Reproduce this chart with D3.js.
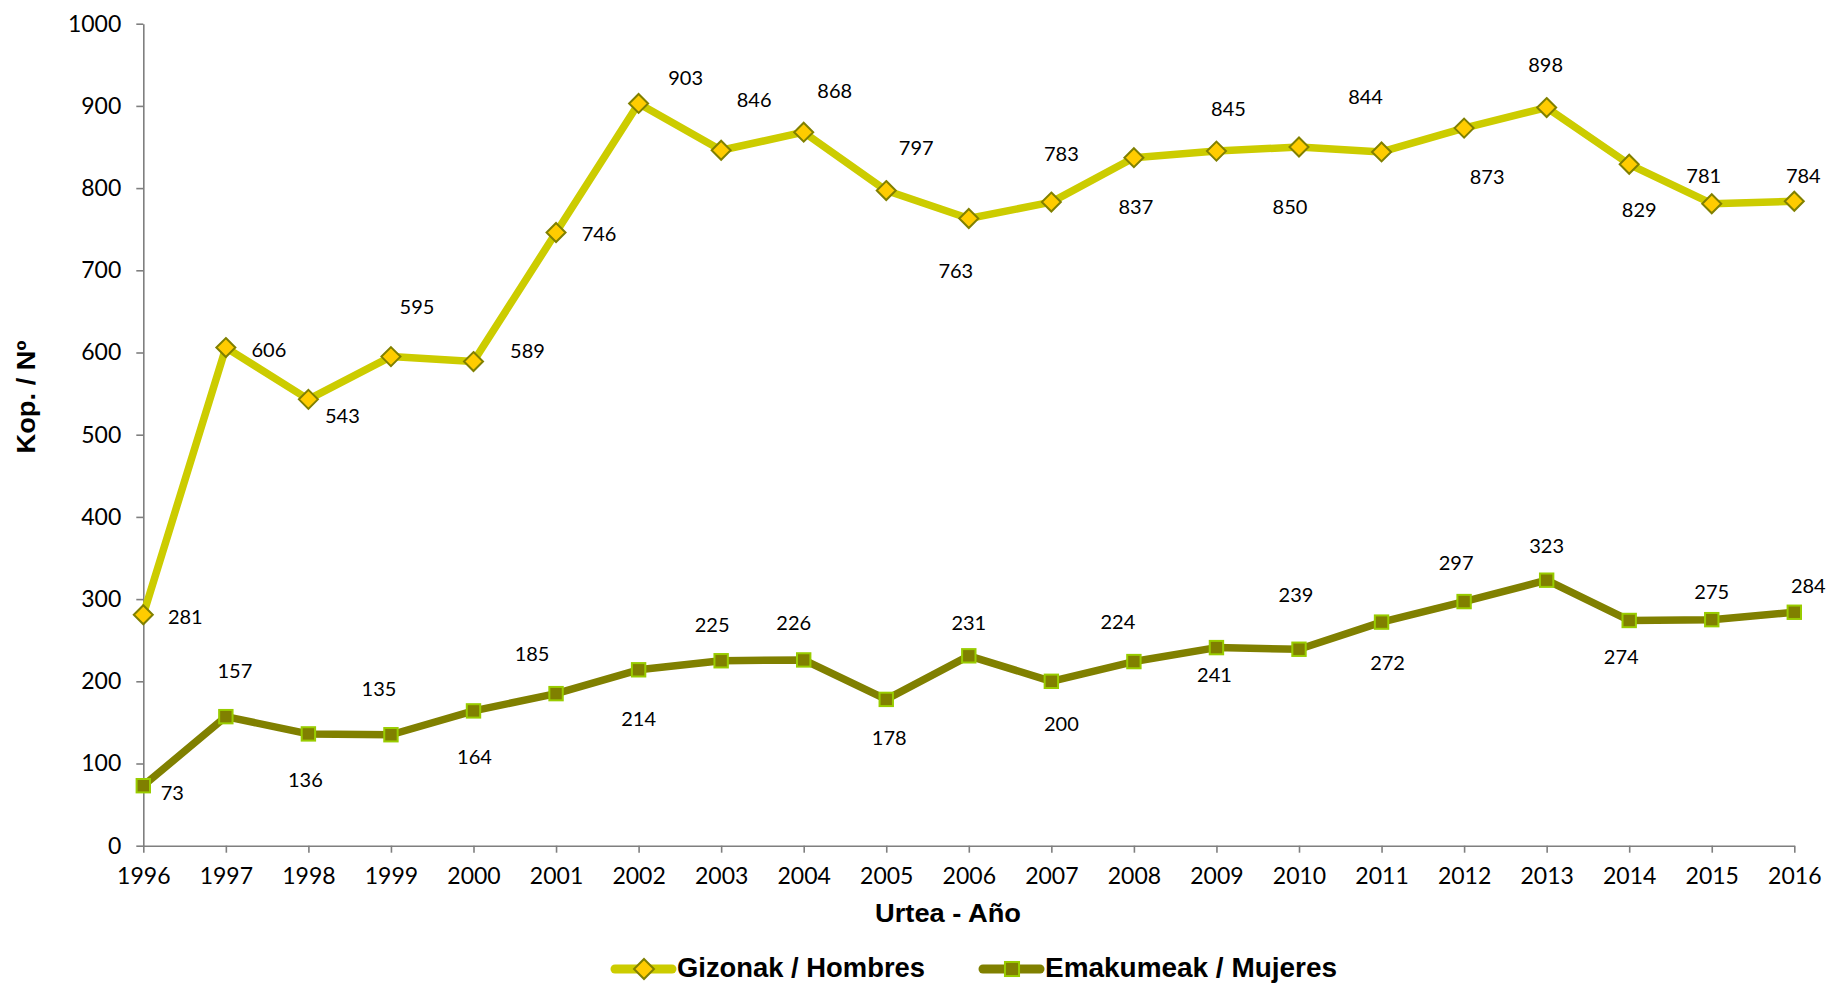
<!DOCTYPE html>
<html>
<head>
<meta charset="utf-8">
<script src="https://cdn.jsdelivr.net/npm/d3@7"></script>
<style>
  html, body { margin: 0; padding: 0; background: #ffffff; }
  svg { display: block; }
</style>
</head>
<body>
<svg id="chart" width="1827" height="984"></svg>
<script>
// ---- Data ----
const years = [1996,1997,1998,1999,2000,2001,2002,2003,2004,2005,2006,2007,2008,2009,2010,2011,2012,2013,2014,2015,2016];
const hombres = [281,606,543,595,589,746,903,846,868,797,763,783,837,845,850,844,873,898,829,781,784];
const mujeres = [73,157,136,135,164,185,214,225,226,178,231,200,224,241,239,272,297,323,274,275,284];
const yTicks = [0,100,200,300,400,500,600,700,800,900,1000];
const seriesNames = ["Gizonak / Hombres", "Emakumeak / Mujeres"];
const xTitle = "Urtea - Año";
const yTitle = "Kop. / Nº";

// label placement (pixel offsets from each point, as in the original)
const hombresLabelOffsets = [[42,1],[43,1],[34,16],[26,-51],[54,-12],[43,1],[47,-26],[33,-51],[31,-42],[30,-44],[-13,51],[10,-49],[2,48],[12,-43],[-9,59],[-16,-56],[23,48],[-1,-44],[10,45],[-8,-29],[9,-26]];
const mujeresLabelOffsets = [[29,6],[9,-47],[-3,45],[-12,-47],[1,45],[-24,-41],[0,48],[-9,-37],[-10,-38],[3,38],[0,-34],[10,42],[-16,-41],[-2,26],[-3,-55],[6,40],[-8,-40],[0,-35],[-8,36],[0,-29],[14,-27]];

// ---- Layout ----
const svg = d3.select("#chart");
const mLeft = 143.3, mRight = 1794.3, mTop = 23.7, mBottom = 845.7;
const x = d3.scaleLinear().domain([years[0], years[years.length-1]]).range([mLeft, mRight]);
const y = d3.scaleLinear().domain([0, 1000]).range([mBottom, mTop]);

const numFont = "Lato, 'Open Sans', sans-serif";
const boldFont = "'Liberation Sans', Arial, sans-serif";
const axisColor = "#7f7f7f";

// Axes
const yAxis = d3.axisLeft(y).tickValues(yTicks).tickSize(7).tickSizeOuter(0).tickPadding(15).tickFormat(d3.format("d"));
const gy = svg.append("g").attr("transform", `translate(${mLeft},0)`).call(yAxis);
const xAxis = d3.axisBottom(x).tickValues(years).tickSize(7).tickSizeOuter(0).tickPadding(15).tickFormat(d3.format("d"));
const gx = svg.append("g").attr("transform", `translate(0,${mBottom})`).call(xAxis);
[gx, gy].forEach(g => {
  g.select(".domain").attr("stroke", axisColor).attr("stroke-width", 1.6);
  g.selectAll(".tick line").attr("stroke", axisColor).attr("stroke-width", 1.6);
  g.selectAll(".tick text").attr("fill", "#000").style("font-family", numFont).style("font-size", "23px");
});

// Axis titles
svg.append("text").attr("x", 948).attr("y", 913).attr("text-anchor", "middle").attr("dominant-baseline", "central")
  .style("font-family", boldFont).style("font-weight", "bold").style("font-size", "25px")
  .attr("textLength", 146).attr("lengthAdjust", "spacingAndGlyphs").text(xTitle);
svg.append("text").attr("transform", "translate(26,397) rotate(-90)").attr("text-anchor", "middle").attr("dominant-baseline", "central")
  .style("font-family", boldFont).style("font-weight", "bold").style("font-size", "25px")
  .attr("textLength", 113).attr("lengthAdjust", "spacingAndGlyphs")
  .text(yTitle);

// Series
const series = [
  { name: seriesNames[0], values: hombres, offsets: hombresLabelOffsets, line: "#cccc00", fill: "#ffcc00", stroke: "#808000", shape: "diamond" },
  { name: seriesNames[1], values: mujeres, offsets: mujeresLabelOffsets, line: "#808000", fill: "#808000", stroke: "#99cc00", shape: "square" }
];

const line = d3.line().x((d, i) => x(years[i])).y(d => y(d));

function drawMarker(g, s, cx, cy, scale) {
  scale = scale || 1;
  if (s.shape === "diamond") {
    const r = 9.5 * scale;
    g.append("path").attr("d", `M${cx},${cy-r}L${cx+r},${cy}L${cx},${cy+r}L${cx-r},${cy}Z`)
      .attr("fill", s.fill).attr("stroke", s.stroke).attr("stroke-width", 2);
  } else {
    const h = 6.7 * scale;
    g.append("rect").attr("x", cx-h).attr("y", cy-h).attr("width", 2*h).attr("height", 2*h)
      .attr("fill", s.fill).attr("stroke", s.stroke).attr("stroke-width", 2);
  }
}

series.forEach(s => {
  const g = svg.append("g");
  g.append("path").datum(s.values).attr("d", line).attr("fill", "none")
    .attr("stroke", s.line).attr("stroke-width", 7.5).attr("stroke-linejoin", "round");
  s.values.forEach((v, i) => drawMarker(g, s, x(years[i]), y(v)));
  g.selectAll("text.lbl").data(s.values).enter().append("text").attr("class", "lbl")
    .attr("x", (d, i) => x(years[i]) + s.offsets[i][0])
    .attr("y", (d, i) => y(d) + s.offsets[i][1])
    .attr("text-anchor", "middle").attr("dominant-baseline", "central")
    .style("font-family", numFont).style("font-size", "20px").attr("fill", "#000")
    .text(d => d);
});

// Legend
const legendItems = [
  { s: series[0], x0: 615, textLen: 248 },
  { s: series[1], x0: 983, textLen: 292 }
];
const ly = 969;
legendItems.forEach(it => {
  const g = svg.append("g");
  g.append("line").attr("x1", it.x0).attr("x2", it.x0 + 57).attr("y1", ly).attr("y2", ly)
    .attr("stroke", it.s.line).attr("stroke-width", 9).attr("stroke-linecap", "round");
  drawMarker(g, it.s, it.x0 + 29, ly, 1.05);
  g.append("text").attr("x", it.x0 + 62).attr("y", 977)
    .style("font-family", boldFont).style("font-weight", "bold").style("font-size", "27px")
    .attr("textLength", it.textLen).attr("lengthAdjust", "spacingAndGlyphs")
    .text(it.s.name);
});
</script>
</body>
</html>
